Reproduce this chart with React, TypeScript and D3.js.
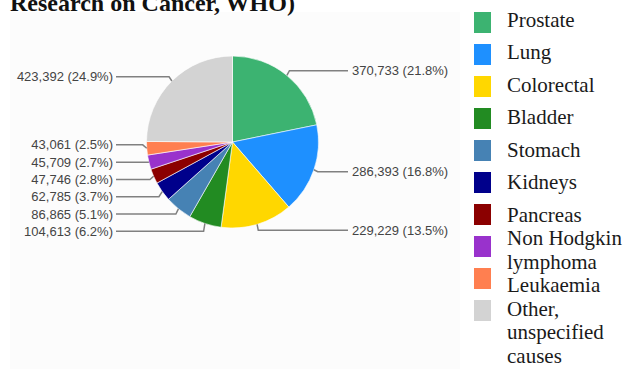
import React from "react";
import * as d3 from "d3";

const categories = ["Prostate", "Lung", "Colorectal", "Bladder", "Stomach", "Kidneys", "Pancreas", "Non Hodgkin lymphoma", "Leukaemia", "Other, unspecified causes"];
const values = [370733, 286393, 229229, 104613, 86865, 62785, 47746, 45709, 43061, 423392];
const colors = ["#3cb371", "#1e90ff", "#ffd700", "#228b22", "#4682b4", "#00008b", "#8b0000", "#9932cc", "#ff7f50", "#d3d3d3"];
const legendLines = [["Prostate"], ["Lung"], ["Colorectal"], ["Bladder"], ["Stomach"], ["Kidneys"], ["Pancreas"], ["Non Hodgkin", "lymphoma"], ["Leukaemia"], ["Other,", "unspecified", "causes"]];
const titleText = "Research on Cancer, WHO)";

const W = 631, H = 369;
const cx = 232.5, cy = 142, R = 86;
const labelGap = 17.3;
const leftTextX = 113, rightTextX = 352;
const serif = "'Liberation Serif', 'Times New Roman', Times, serif";
const sans = "'Liberation Sans', Arial, Helvetica, sans-serif";

function resolve(items: { y: number; idx: number }[]) {
  const sorted = [...items].sort((a, b) => a.y - b.y);
  let clusters = sorted.map((it) => ({ members: [it], center: it.y }));
  let changed = true;
  while (changed) {
    changed = false;
    for (let i = 0; i < clusters.length - 1; i++) {
      const a = clusters[i], b = clusters[i + 1];
      const aBottom = a.center + ((a.members.length - 1) * labelGap) / 2;
      const bTop = b.center - ((b.members.length - 1) * labelGap) / 2;
      if (bTop - aBottom < labelGap) {
        const members = [...a.members, ...b.members];
        const center = d3.mean(members, (m) => m.y) as number;
        clusters.splice(i, 2, { members, center });
        changed = true;
        break;
      }
    }
  }
  const out: Record<number, number> = {};
  clusters.forEach((c) => {
    const top = c.center - ((c.members.length - 1) * labelGap) / 2;
    c.members.forEach((m, k) => (out[m.idx] = top + k * labelGap));
  });
  return out;
}

export default function App() {
  const total = d3.sum(values);
  const pie = d3.pie<number>().sort(null).value((d) => d);
  const arcs = pie(values);
  const arcGen = d3.arc<d3.PieArcDatum<number>>().innerRadius(0).outerRadius(R);
  const fmt = d3.format(",");

  const info = arcs.map((a, i) => {
    const mid = (a.startAngle + a.endAngle) / 2;
    const s = Math.sin(mid), c = Math.cos(mid);
    return {
      i,
      side: s >= 0 ? "right" : "left",
      edge: [cx + s * R, cy - c * R],
      knee: [cx + s * (R + 4), cy - c * (R + 4)],
      anchorY: cy - c * (R + 6),
      text: `${fmt(values[i])} (${((values[i] / total) * 100).toFixed(1)}%)`,
    };
  });
  const leftY = resolve(info.filter((d) => d.side === "left").map((d) => ({ y: d.anchorY, idx: d.i })));
  const rightY = resolve(info.filter((d) => d.side === "right").map((d) => ({ y: d.anchorY, idx: d.i })));

  const textYs: number[][] = [];
  let cursor = 20;
  legendLines.forEach((lines, i) => {
    const ys: number[] = [];
    lines.forEach((_, k) => {
      if (i === 0 && k === 0) cursor = 20;
      else if (i < 7 && k === 0) cursor += 32.5;
      else cursor += 23.5;
      ys.push(cursor);
    });
    textYs.push(ys);
  });

  return (
    <svg width={W} height={H} style={{ position: "absolute", left: 0, top: 0, background: "#fff" }}>
      <rect x={10} y={12} width={450} height={H - 12} fill="#fcfcfc" />
      <text x={10} y={11} style={{ fontFamily: serif, fontWeight: "bold", fontSize: 24 }} fill="#111">
        {titleText}
      </text>
      <g>
        {arcs.map((a, i) => (
          <path key={i} d={arcGen(a) as string} transform={`translate(${cx},${cy})`} fill={colors[i]} stroke="#fff" strokeWidth={0.6} />
        ))}
      </g>
      <g>
        {info.map((d) => {
          const ly = d.side === "left" ? leftY[d.i] : rightY[d.i];
          const endX = d.side === "left" ? leftTextX + 3 : rightTextX - 4;
          const path = `M${d.edge[0]},${d.edge[1]}L${d.knee[0]},${ly}L${endX},${ly}`;
          return (
            <g key={d.i}>
              <path d={path} fill="none" stroke="#808080" strokeWidth={1.5} />
              <text
                x={d.side === "left" ? leftTextX : rightTextX}
                y={ly}
                dy="0.35em"
                textAnchor={d.side === "left" ? "end" : "start"}
                style={{ fontFamily: sans, fontSize: 13 }}
                fill="#444"
              >
                {d.text}
              </text>
            </g>
          );
        })}
      </g>
      <g>
        {legendLines.map((lines, i) => (
          <g key={i}>
            <rect x={474} y={12 + i * 32} width={17} height={21} fill={colors[i]} />
            {lines.map((ln, k) => (
              <text key={k} x={507} y={textYs[i][k]} dy="0.33em" style={{ fontFamily: serif, fontSize: 21 }} fill="#1a1a1a">
                {ln}
              </text>
            ))}
          </g>
        ))}
      </g>
    </svg>
  );
}
